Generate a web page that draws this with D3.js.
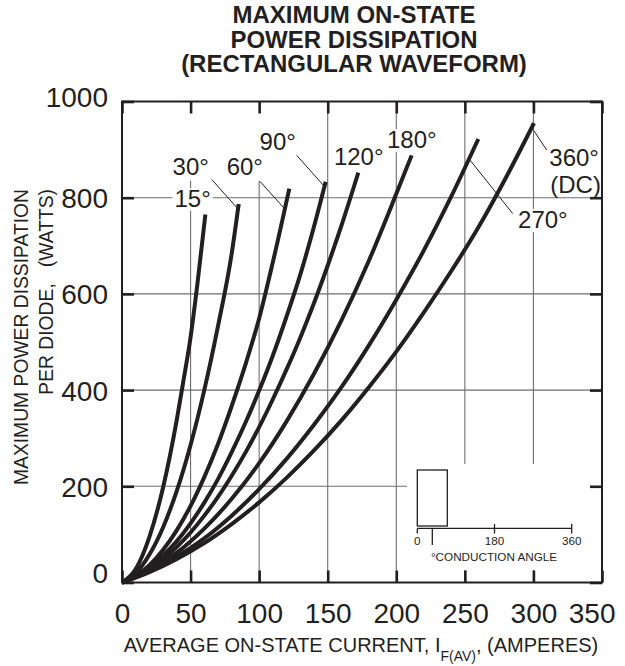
<!DOCTYPE html>
<html><head><meta charset="utf-8">
<script src="https://cdn.jsdelivr.net/npm/d3@7"></script>
<style>body{margin:0;background:#fff} svg text{font-family:"Liberation Sans",Arial,Helvetica,sans-serif}</style>
</head><body><svg id="c" width="625" height="666"></svg>
<script>
// ---- data ----
const xTicks = [0, 50, 100, 150, 200, 250, 300, 350];
const yTicks = [0, 200, 400, 600, 800, 1000];
const angleNames = ["15°", "30°", "60°", "90°", "120°", "180°", "270°", "360°"];

const cur15 = [0, 10, 20, 30, 40, 45, 50, 55, 60.8];
const pow15 = [0, 28, 95, 198, 339, 423, 510, 621, 765];
const cur30 = [0, 10, 20, 30, 40, 50, 60, 70, 80, 85.1];
const pow30 = [0, 19, 58, 115, 191, 286, 400, 533, 684, 787];
const cur60 = [0, 10, 20, 30, 40, 50, 60, 70, 80, 90, 100, 110, 122];
const pow60 = [0, 14, 36, 68, 109, 159, 219, 288, 367, 453, 549, 666, 819];
const cur90 = [0, 10, 20, 30, 40, 50, 60, 70, 80, 90, 100, 110, 120, 130, 140, 148.5];
const pow90 = [0, 12, 31, 56, 86, 123, 166, 215, 271, 332, 399, 472, 553, 640, 740, 833];
const cur120 = [0, 10, 20, 30, 40, 50, 60, 70, 80, 90, 100, 110, 120, 130, 140, 150, 160, 172.3];
const pow120 = [0, 12, 28, 49, 74, 104, 139, 178, 222, 270, 323, 381, 443, 509, 581, 659, 742, 852];
const cur180 = [0, 20, 40, 60, 80, 100, 120, 140, 160, 180, 200, 211.2];
const pow180 = [0, 25, 62, 112, 174, 248, 335, 434, 545, 669, 808, 888];
const cur270 = [0, 20, 40, 60, 80, 100, 120, 140, 160, 180, 200, 220, 240, 259.8];
const pow270 = [0, 23, 54, 92, 139, 194, 257, 328, 406, 493, 588, 690, 802, 922];
const cur360 = [0, 20, 40, 60, 80, 100, 120, 140, 160, 180, 200, 220, 240, 260, 280, 300.4];
const pow360 = [0, 21.5, 49, 82, 121.5, 166.6, 217.6, 274.5, 337, 406, 480, 561, 647, 739, 842, 955];

const insetTicks = [0, 180, 360];

const series = [
  {I: cur15, P: pow15}, {I: cur30, P: pow30}, {I: cur60, P: pow60}, {I: cur90, P: pow90},
  {I: cur120, P: pow120}, {I: cur180, P: pow180}, {I: cur270, P: pow270}, {I: cur360, P: pow360}
];

// ---- layout ----
const M = {l: 122, r: 602, t: 101.5, b: 582.5};
const ink = "#231f20", grid = "#6d6e71";
const x = d3.scaleLinear().domain([0, 350]).range([M.l, M.r]);
const y = d3.scaleLinear().domain([0, 1000]).range([M.b, M.t]);
const svg = d3.select("#c");

// title
const title = ["MAXIMUM ON-STATE", "POWER DISSIPATION", "(RECTANGULAR WAVEFORM)"];
svg.append("g").selectAll("text").data(title).join("text")
  .attr("x", 354).attr("y", (d, i) => 23 + i * 24.5)
  .attr("text-anchor", "middle").attr("font-weight", "bold").attr("font-size", 24)
  .attr("fill", ink).text(d => d);

// grid
const gridG = svg.append("g");
gridG.selectAll("line.v").data(xTicks.slice(1, -1)).join("line").attr("class", "v")
  .attr("x1", d => x(d)).attr("x2", d => x(d))
  .attr("y1", y(0)).attr("y2", d => d <= 100 ? y(835) : y(1000))
  .attr("stroke", grid).attr("stroke-width", 1.1);
gridG.selectAll("line.h").data(yTicks.slice(1, -1)).join("line").attr("class", "h")
  .attr("x1", x(0)).attr("x2", x(350))
  .attr("y1", d => y(d)).attr("y2", d => y(d))
  .attr("stroke", grid).attr("stroke-width", 1.1);

// inset background (hides grid)
svg.append("rect").attr("x", 407).attr("y", 464).attr("width", 195).attr("height", 106).attr("fill", "#fff");

// curve labels with white boxes
const labels = [
  {t: "15°", I: 38.3, P: 781}, {t: "30°", I: 36.9, P: 847}, {t: "60°", I: 76.3, P: 847},
  {t: "90°", I: 100.3, P: 899}, {t: "120°", I: 154.5, P: 868}, {t: "180°", I: 193.2, P: 903},
  {t: "270°", I: 288.8, P: 737}, {t: "360°", I: 311.6, P: 866}, {t: "(DC)", I: 312.3, P: 810}
];
const labG = svg.append("g");
const boxG = labG.append("g");
const txtG = labG.append("g");
labels.forEach(l => {
  const t = txtG.append("text").attr("x", x(l.I)).attr("y", y(l.P))
    .attr("font-size", 24).attr("fill", ink).text(l.t);
  const b = t.node().getBBox();
  boxG.append("rect").attr("x", b.x - 2).attr("y", b.y + 3).attr("width", b.width + 4)
    .attr("height", b.height - 4).attr("fill", "#fff");
});

// curves
const lineGen = d3.line().x(d => x(d[0])).y(d => y(d[1])).curve(d3.curveMonotoneX);
svg.append("g").selectAll("path").data(series).join("path")
  .attr("d", s => lineGen(d3.zip(s.I, s.P)))
  .attr("fill", "none").attr("stroke", ink).attr("stroke-width", 4);

// leader lines
const leaders = [
  [65.4, 838, 84.8, 776], [100.6, 834, 118.9, 776], [127.4, 888, 146.8, 826],
  [253.8, 878, 284.9, 767], [300.4, 939, 309.7, 899]
];
svg.append("g").selectAll("line").data(leaders).join("line")
  .attr("x1", d => x(d[0])).attr("y1", d => y(d[1])).attr("x2", d => x(d[2])).attr("y2", d => y(d[3]))
  .attr("stroke", ink).attr("stroke-width", 1);

svg.node().appendChild(txtG.node());

// frame
svg.append("rect").attr("x", M.l).attr("y", M.t).attr("width", M.r - M.l).attr("height", M.b - M.t)
  .attr("fill", "none").attr("stroke", ink).attr("stroke-width", 2);

// axes
function styleAxis(g, labelsOn) {
  g.select(".domain").remove();
  g.selectAll(".tick line").attr("stroke", ink).attr("stroke-width", 2.6);
  g.selectAll(".tick text").attr("fill", ink).attr("font-size", 28)
    .attr("font-family", '"Liberation Sans",Arial,sans-serif');
  if (!labelsOn) g.selectAll(".tick text").remove();
}
const fmt = d3.format("d");
const xb = svg.append("g").attr("transform", `translate(0,${M.b})`)
  .call(d3.axisBottom(x).tickValues(xTicks).tickFormat(fmt).tickSizeInner(-12).tickSizeOuter(0).tickPadding(20.6))
  .call(g => styleAxis(g, true));
xb.selectAll(".tick text").filter(d => d === 350).attr("text-anchor", "end").attr("x", 13);
svg.append("g").attr("transform", `translate(0,${M.t})`)
  .call(d3.axisTop(x).tickValues(xTicks).tickSizeInner(-12).tickSizeOuter(0))
  .call(g => styleAxis(g, false));
const yl = svg.append("g").attr("transform", `translate(${M.l},0)`)
  .call(d3.axisLeft(y).tickValues(yTicks).tickFormat(fmt).tickSizeInner(-12).tickSizeOuter(0).tickPadding(14))
  .call(g => styleAxis(g, true));
yl.selectAll(".tick text").attr("dy", "0.36em");
yl.selectAll(".tick text").filter(d => d === 0).attr("y", -10);
yl.selectAll(".tick text").filter(d => d === 1000).attr("y", -5);
svg.append("g").attr("transform", `translate(${M.r},0)`)
  .call(d3.axisRight(y).tickValues(yTicks).tickSizeInner(-12).tickSizeOuter(0))
  .call(g => styleAxis(g, false));

// axis titles
const xt = svg.append("text").attr("x", 361).attr("y", 652).attr("text-anchor", "middle")
  .attr("font-size", 20).attr("fill", ink);
xt.append("tspan").text("AVERAGE ON-STATE CURRENT, I");
xt.append("tspan").attr("font-size", 14).attr("dy", 9).text("F(AV)");
xt.append("tspan").attr("dy", -9).text(", (AMPERES)");

const ytitle = ["MAXIMUM POWER DISSIPATION", "PER DIODE,\u00a0\u00a0 (WATTS)"];
svg.append("g").selectAll("text").data(ytitle).join("text")
  .attr("transform", (d, i) => `translate(${i ? 53 : 28},189) rotate(-90)`)
  .attr("text-anchor", "end").attr("font-size", 19.3).attr("fill", ink).text(d => d);

// inset: conduction angle sketch
const ax = d3.scaleLinear().domain([0, 360]).range([417.3, 571.7]);
const ig = svg.append("g").attr("stroke", ink).attr("stroke-width", 1.3).attr("fill", "none");
ig.append("rect").attr("x", ax(0)).attr("y", 470).attr("width", ax(70) - ax(0)).attr("height", 56);
ig.append("line").attr("x1", ax(0)).attr("x2", ax(360)).attr("y1", 528.4).attr("y2", 528.4);
ig.selectAll("line.t").data(insetTicks).join("line").attr("class", "t")
  .attr("x1", d => ax(d)).attr("x2", d => ax(d)).attr("y1", d => d === 0 ? 528.4 : 524).attr("y2", 533.5);
ig.append("line").attr("x1", ax(35)).attr("x2", ax(35)).attr("y1", 528.4).attr("y2", 545);
svg.append("g").selectAll("text").data(insetTicks).join("text")
  .attr("x", d => ax(d)).attr("y", 545).attr("text-anchor", "middle").attr("font-size", 11.7)
  .attr("fill", ink).text(d => d);
svg.append("text").attr("x", 494).attr("y", 561).attr("text-anchor", "middle").attr("font-size", 11.7)
  .attr("fill", ink).text("°CONDUCTION ANGLE");
</script></body></html>
